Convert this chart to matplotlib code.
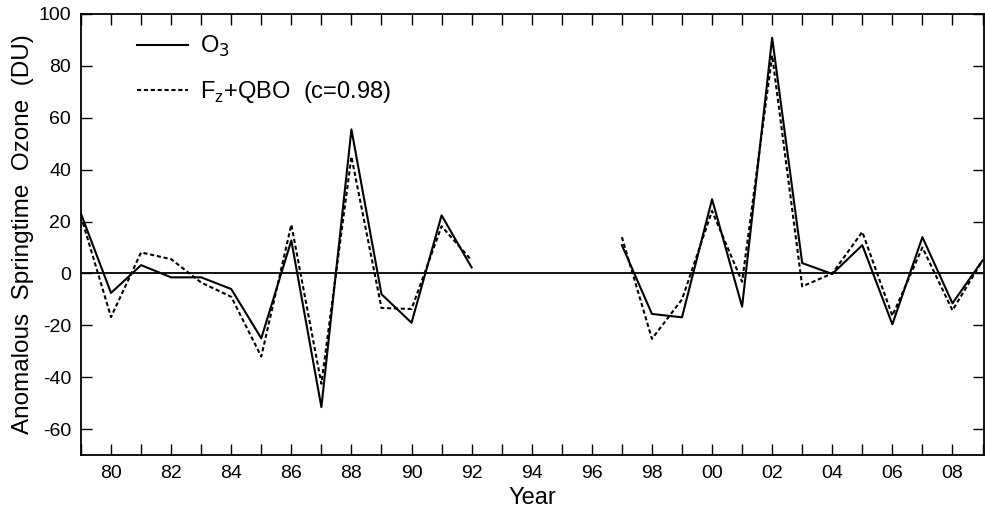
import numpy as np
import matplotlib
matplotlib.use("Agg")
import matplotlib.pyplot as plt
from matplotlib.ticker import MultipleLocator, FuncFormatter

plt.rcParams["font.family"] = ["Liberation Sans", "DejaVu Sans"]
plt.rcParams["axes.unicode_minus"] = False

nan = np.nan
years = list(range(1979, 2010))
o3 = [23, -7.5, 3.2, -1.5, -1.5, -6, -25, 12.7, -51.5, 55.5, -8, -19, 22.4, 2.3,
      nan, nan, nan, nan,
      10.9, -15.6, -16.9, 28.6, -12.8, 90.8, 4, -0.2, 10.9, -19.6, 14, -11.5, 5]
fz_qbo = [22, -16.8, 8.1, 5.5, -3.5, -9, -32, 18.8, -42.5, 45, -13.3, -13.7, 18.2, 5,
          nan, nan, nan, nan,
          14, -25.2, -10, 24.1, -3.2, 84, -5, 0, 16, -16.3, 10, -14.2, 5]
yticks = [-60, -40, -20, 0, 20, 40, 60, 80, 100]

fig = plt.figure(figsize=(9.85, 5.16), dpi=100)
ax = fig.add_axes([0.0822, 0.118, 0.9168, 0.855])

ax.axhline(0, color="black", lw=1.3, zorder=1)
ax.plot(years, o3, color="black", lw=1.5, label="O$_3$")
ax.plot(years, fz_qbo, color="black", lw=1.5, linestyle=(0, (2.0, 1.3)),
        label="F$_\\mathregular{z}$+QBO  (c=0.98)")

ax.set_xlim(1979, 2009.05)
ax.set_ylim(-70, 100)
ax.set_yticks(yticks)
ax.set_xticks(range(1980, 2010, 2))
ax.xaxis.set_minor_locator(MultipleLocator(1))
ax.xaxis.set_major_formatter(FuncFormatter(lambda v, p: f"{int(v) % 100:02d}"))

ax.tick_params(axis="both", which="both", direction="in", length=8, width=1,
               top=True, right=True, labelsize=14, pad=7)
ax.tick_params(axis="x", which="minor", length=8)
for s in ax.spines.values():
    s.set_linewidth(1.3)

ax.set_xlabel("Year", fontsize=17, labelpad=4)
ax.set_ylabel("Anomalous  Springtime  Ozone  (DU)", fontsize=17.5, labelpad=3)

ax.legend(loc="upper left", bbox_to_anchor=(0.062, 0.955), frameon=False,
          borderaxespad=0, borderpad=0,
          fontsize=17, handlelength=2.15, handletextpad=0.5, labelspacing=0.85)

fig.savefig("out.png", dpi=100)
